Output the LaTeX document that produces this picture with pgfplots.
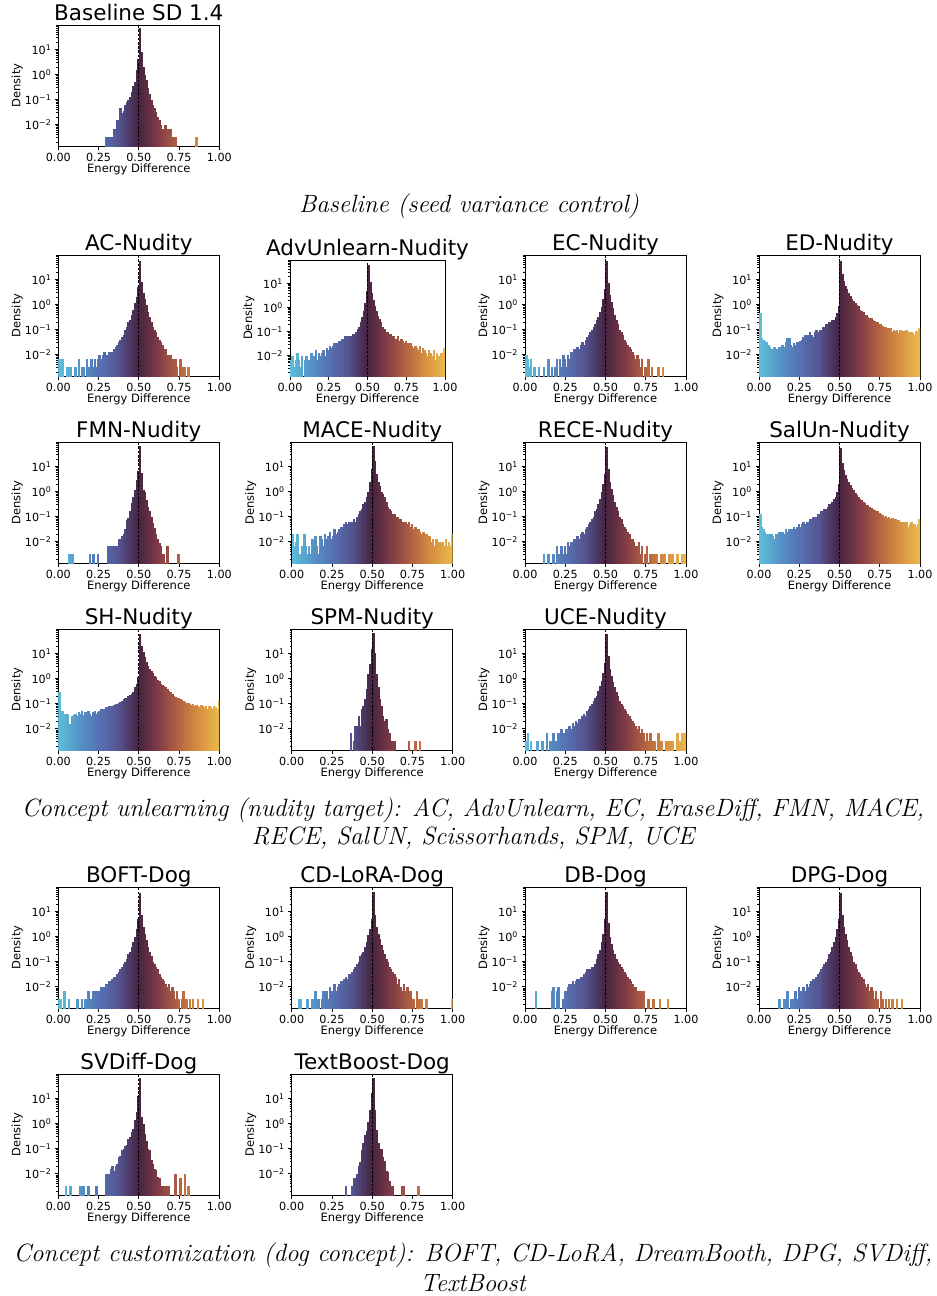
\documentclass[border=0pt]{standalone}
\usepackage{fontspec}
\usepackage{pgfplots}
\pgfplotsset{compat=1.18}
\newfontfamily\dv{DejaVu Sans}

\pgfplotsset{colormap={managua}{rgb255=(92,192,218) rgb255=(85,150,200) rgb255=(85,115,180) rgb255=(85,85,145) rgb255=(70,35,65) rgb255=(130,60,70) rgb255=(180,100,65) rgb255=(215,145,65) rgb255=(235,185,75)}}

% one histogram bin: a column from the data point down, clipped at the axis floor
\pgfdeclareplotmark{hbar}{%
  \pgfpathrectangle{\pgfqpoint{-0.8pt}{-300pt}}{\pgfqpoint{1.6pt}{300pt}}%
  \pgfusepathqfillstroke}

% #1 = extra axis options, #2 = left, #3 = top (pixels of the reference), #4 = title,
% #5 = densities of the 100 bins of width 0.01 (trailing empty bins left out)
\newcommand{\hpanel}[5][]{%
  \begin{axis}[
    scale only axis, width=161pt, height=121pt, anchor=north west,
    at={(#2pt,-#3pt)}, title={#4},
    xmin=0, xmax=1, ymin=0.00142, ymax=95, ymode=log,
    clip marker paths=true,
    xtick={0,0.25,0.5,0.75,1}, xticklabels={0.00,0.25,0.50,0.75,1.00},
    ytick={0.01,0.1,1,10},
    yticklabels={10\textsuperscript{−2},10\textsuperscript{−1},10\textsuperscript{0},10\textsuperscript{1}},
    minor ytick={0.002,0.003,0.004,0.005,0.006,0.007,0.008,0.009,0.02,0.03,0.04,0.05,0.06,0.07,0.08,0.09,0.2,0.3,0.4,0.5,0.6,0.7,0.8,0.9,2,3,4,5,6,7,8,9,20,30,40,50,60,70,80,90},
    xtick pos=left, ytick pos=left, tick align=outside,
    major tick length=3.5pt, minor tick length=2pt,
    tick style={black, line width=0.8pt},
    axis line style={line width=0.8pt},
    tick label style={font=\dv\fontsize{11.2}{12}\selectfont},
    xlabel={Energy Difference}, ylabel={Density},
    xlabel style={at={(axis description cs:0.5,0)}, yshift=-23pt, anchor=center, font=\dv\fontsize{11.5}{13}\selectfont},
    % the label is already turned by 90 degrees, so its yshift moves it to the left
    ylabel style={at={(axis description cs:0,0.5)}, yshift=41pt, anchor=center, font=\dv\fontsize{11.5}{13}\selectfont},
    title style={font=\dv\fontsize{21.5}{24}\selectfont, at={(axis description cs:0.5,1)}, anchor=base, yshift=-1pt, inner sep=0pt},
    colormap name=managua, point meta min=0, point meta max=1,
    #1]
    \addplot[scatter, only marks, mark=hbar, point meta=x,
      scatter/use mapped color={draw=mapped color, fill=mapped color}, mark options={line width=0.15pt}]
      table[row sep=\\, header=false, x expr={0.005+0.01*\coordindex}, y index=0] {#5};
    \addplot[black, line width=0.9pt, dash pattern=on 2.6pt off 1.6pt] coordinates {(0.5,0.0001) (0.5,1000)};
  \end{axis}}

\newcommand{\capfont}{\fontsize{25}{29}\selectfont\itshape}

\begin{document}
\begin{tikzpicture}
\path[use as bounding box] (0,0) rectangle (937pt,-1296pt);

% ---------- baseline ----------
\hpanel{58.3}{25}{Baseline SD 1.4}{
0\\0\\0\\0\\0\\0\\0\\0\\0\\0\\
0\\0\\0\\0\\0\\0\\0\\0\\0\\0\\
0\\0\\0\\0\\0\\0\\0\\0\\0\\0.0033\\
0.0033\\0.0033\\0.0033\\0.0033\\0.0067\\0.0033\\0.016\\0.0067\\0.045\\0.03\\
0.035\\0.06\\0.08\\0.1\\0.13\\0.2\\0.35\\0.5\\1.5\\4\\
70\\8\\2\\1\\0.6\\0.3\\0.17\\0.1\\0.063\\0.045\\
0.032\\0.02\\0.016\\0.01\\0.0067\\0.0067\\0.01\\0.0067\\0.0033\\0.0067\\
0.0033\\0\\0.0033\\0\\0\\0\\0\\0\\0\\0\\
0\\0\\0\\0\\0\\0.0033\\}
\node[font=\capfont] at (469pt,-206pt) {Baseline (seed variance control)};

% ---------- nudity row 1 ----------
\hpanel{58.3}{255}{AC-Nudity}{
0.0067\\0.0033\\0.0067\\0\\0\\0.0033\\0\\0.0033\\0\\0\\
0.0033\\0\\0.0067\\0\\0.0033\\0.0033\\0\\0.0067\\0.0033\\0\\
0.0067\\0.0033\\0.0067\\0.0033\\0.0067\\0.01\\0.0067\\0.01\\0.013\\0.01\\
0.01\\0.013\\0.01\\0.013\\0.0167\\0.02\\0.025\\0.032\\0.04\\0.05\\
0.063\\0.1\\0.13\\0.2\\0.25\\0.4\\0.63\\1.2\\2\\5\\
55\\8\\3\\1.6\\1\\0.5\\0.32\\0.2\\0.13\\0.1\\
0.08\\0.05\\0.04\\0.032\\0.025\\0.013\\0.0167\\0.01\\0.0067\\0.01\\
0.0067\\0.0033\\0.0067\\0.0033\\0\\0.0067\\0\\0.0033\\0.0033\\0\\
0.0033\\}

\hpanel[width=155pt, height=116pt]{290}{260}{AdvUnlearn-Nudity}{
0.0067\\0.01\\0.0033\\0.0067\\0.013\\0.0067\\0.0033\\0.01\\0\\0.0067\\
0.01\\0.0067\\0.0033\\0.013\\0.0067\\0.01\\0.0167\\0.0067\\0.013\\0.01\\
0.013\\0.0167\\0.01\\0.02\\0.0167\\0.025\\0.02\\0.025\\0.032\\0.025\\
0.032\\0.04\\0.032\\0.05\\0.04\\0.063\\0.05\\0.063\\0.05\\0.063\\
0.08\\0.063\\0.1\\0.13\\0.16\\0.25\\0.4\\0.7\\1.5\\5\\
60\\12\\4\\2\\1.2\\0.7\\0.45\\0.32\\0.25\\0.16\\
0.13\\0.1\\0.1\\0.08\\0.08\\0.063\\0.063\\0.05\\0.05\\0.063\\
0.04\\0.05\\0.04\\0.032\\0.04\\0.032\\0.025\\0.032\\0.025\\0.02\\
0.025\\0.02\\0.0167\\0.025\\0.013\\0.02\\0.0167\\0.013\\0.01\\0.0167\\
0.013\\0.01\\0.0167\\0.0067\\0.013\\0.01\\0.0067\\0.013\\0.01\\0.02\\}

\hpanel{525}{255}{EC-Nudity}{
0.01\\0.0067\\0.0033\\0.0067\\0\\0.0033\\0\\0\\0.0033\\0\\
0\\0.0033\\0\\0\\0.0067\\0\\0.0033\\0\\0.0033\\0.0067\\
0\\0.0067\\0.0033\\0.01\\0.0067\\0.0033\\0.01\\0.0067\\0.013\\0.01\\
0.0167\\0.013\\0.02\\0.0167\\0.025\\0.032\\0.025\\0.04\\0.05\\0.063\\
0.08\\0.1\\0.13\\0.16\\0.25\\0.32\\0.5\\0.8\\1.6\\4\\
55\\7\\2.5\\1.3\\0.7\\0.4\\0.25\\0.16\\0.1\\0.08\\
0.063\\0.04\\0.032\\0.025\\0.02\\0.0167\\0.013\\0.01\\0.0067\\0.01\\
0.0067\\0.0033\\0.0067\\0\\0.0033\\0\\0.0067\\0\\0.0033\\0\\
0\\0\\0.0033\\0\\0\\0.0033\\}

\hpanel{759}{255}{ED-Nudity}{
0.47\\0.047\\0.04\\0.035\\0.032\\0.025\\0.02\\0.0167\\0.0167\\0.02\\
0.0167\\0.0167\\0.02\\0.0167\\0.025\\0.02\\0.032\\0.045\\0.045\\0.025\\
0.02\\0.03\\0.025\\0.032\\0.025\\0.035\\0.04\\0.05\\0.063\\0.045\\
0.063\\0.08\\0.063\\0.05\\0.08\\0.1\\0.08\\0.1\\0.1\\0.13\\
0.13\\0.16\\0.16\\0.2\\0.2\\0.25\\0.25\\0.32\\0.45\\0.85\\
55\\16\\8.5\\5.4\\4\\3\\2.1\\1.6\\1.35\\1.15\\
1\\0.85\\0.63\\0.55\\0.5\\0.4\\0.38\\0.32\\0.3\\0.28\\
0.25\\0.22\\0.19\\0.2\\0.16\\0.16\\0.14\\0.13\\0.13\\0.12\\
0.1\\0.12\\0.08\\0.1\\0.09\\0.1\\0.07\\0.1\\0.08\\0.09\\
0.063\\0.1\\0.08\\0.063\\0.08\\0.07\\0.063\\0.09\\0.07\\0.12\\}

% ---------- nudity row 2 ----------
\hpanel{58.3}{442}{FMN-Nudity}{
0\\0\\0\\0\\0\\0\\0.0033\\0.0033\\0.0033\\0\\
0\\0\\0\\0\\0\\0\\0\\0\\0\\0.0033\\
0\\0.0033\\0\\0\\0.0033\\0\\0\\0\\0\\0\\
0.0067\\0.0067\\0\\0.0067\\0.0067\\0.0067\\0.0067\\0.013\\0.013\\0.0167\\
0.02\\0.032\\0.075\\0.085\\0.16\\0.34\\0.63\\1.2\\3\\6.3\\
63\\5.4\\1.2\\1\\0.47\\0.25\\0.16\\0.1\\0.054\\0.034\\
0.021\\0.0126\\0.0085\\0.0067\\0.0033\\0.0033\\0\\0.0067\\0\\0\\
0\\0\\0\\0\\0.0033\\}

\hpanel{291.7}{442}{MACE-Nudity}{
0.02\\0.0067\\0.01\\0.02\\0.0033\\0\\0.0067\\0.02\\0.0067\\0.0033\\
0.0067\\0.0033\\0.013\\0.0067\\0.0167\\0.0067\\0.0033\\0.0167\\0.013\\0.0067\\
0.02\\0.013\\0.0167\\0.025\\0.013\\0.0167\\0.032\\0.02\\0.025\\0.032\\
0.04\\0.032\\0.05\\0.063\\0.05\\0.063\\0.05\\0.063\\0.08\\0.063\\
0.1\\0.13\\0.16\\0.2\\0.32\\0.4\\0.63\\1\\2.5\\8\\
63\\16\\5\\2.5\\1.6\\1\\0.8\\0.63\\0.4\\0.25\\
0.2\\0.16\\0.13\\0.13\\0.1\\0.1\\0.08\\0.08\\0.063\\0.063\\
0.063\\0.05\\0.063\\0.04\\0.05\\0.032\\0.04\\0.025\\0.032\\0.025\\
0.02\\0.025\\0.0167\\0.02\\0.013\\0.0167\\0.01\\0.013\\0.0067\\0.013\\
0.0067\\0.01\\0.0033\\0.01\\0.0067\\0.013\\0.0067\\0.01\\0.0067\\0.02\\}

\hpanel{525}{442}{RECE-Nudity}{
0\\0\\0\\0\\0\\0\\0\\0\\0\\0\\
0\\0.0033\\0\\0\\0.0033\\0\\0\\0.0033\\0\\0.0067\\
0.0033\\0\\0.0067\\0.0033\\0.0067\\0.0033\\0.01\\0.0067\\0.01\\0.0067\\
0.013\\0.01\\0.0167\\0.013\\0.02\\0.025\\0.02\\0.032\\0.04\\0.05\\
0.063\\0.08\\0.1\\0.16\\0.2\\0.32\\0.5\\1\\2\\5\\
60\\8\\2.5\\1.3\\0.7\\0.4\\0.25\\0.16\\0.1\\0.08\\
0.05\\0.04\\0.032\\0.025\\0.02\\0.013\\0.013\\0.01\\0.0067\\0.0067\\
0.01\\0.0033\\0.0067\\0\\0.0033\\0.0067\\0\\0.0033\\0\\0.0033\\
0\\0.0033\\0\\0\\0.0033\\0\\0.0033\\0\\0\\0.0033\\
0\\0.0033\\0\\0\\0.0033\\0\\0\\0.0033\\0\\0.0033\\}

\hpanel{759}{442}{SalUn-Nudity}{
0.13\\0.04\\0.032\\0.025\\0.02\\0.02\\0.0167\\0.02\\0.0167\\0.013\\
0.02\\0.0167\\0.025\\0.02\\0.025\\0.02\\0.032\\0.025\\0.032\\0.025\\
0.032\\0.04\\0.032\\0.04\\0.05\\0.04\\0.05\\0.063\\0.05\\0.063\\
0.063\\0.08\\0.08\\0.1\\0.08\\0.1\\0.13\\0.13\\0.16\\0.16\\
0.2\\0.2\\0.25\\0.32\\0.32\\0.4\\0.5\\0.63\\1\\2\\
55\\14\\7\\4.5\\3.2\\2.4\\1.8\\1.4\\1.1\\0.9\\
0.75\\0.63\\0.5\\0.45\\0.4\\0.35\\0.3\\0.28\\0.25\\0.22\\
0.2\\0.18\\0.16\\0.16\\0.14\\0.13\\0.12\\0.1\\0.11\\0.09\\
0.1\\0.08\\0.09\\0.07\\0.08\\0.063\\0.07\\0.063\\0.05\\0.063\\
0.05\\0.063\\0.04\\0.05\\0.063\\0.04\\0.05\\0.04\\0.05\\0.08\\}

% ---------- nudity row 3 ----------
\hpanel{58.3}{629}{SH-Nudity}{
0.28\\0.05\\0.05\\0.04\\0.035\\0.04\\0.015\\0.016\\0.032\\0.035\\
0.04\\0.032\\0.045\\0.04\\0.05\\0.035\\0.045\\0.032\\0.05\\0.04\\
0.032\\0.045\\0.05\\0.04\\0.045\\0.05\\0.063\\0.055\\0.063\\0.07\\
0.063\\0.08\\0.07\\0.08\\0.09\\0.1\\0.1\\0.11\\0.12\\0.13\\
0.15\\0.16\\0.17\\0.2\\0.22\\0.25\\0.3\\0.45\\0.63\\1.2\\
60\\20\\11\\7\\4.4\\3.2\\2.4\\2\\1.7\\1.3\\
1.1\\0.9\\0.8\\0.63\\0.55\\0.5\\0.45\\0.38\\0.32\\0.28\\
0.24\\0.2\\0.18\\0.17\\0.16\\0.15\\0.14\\0.13\\0.12\\0.11\\
0.11\\0.1\\0.09\\0.1\\0.08\\0.09\\0.08\\0.07\\0.09\\0.08\\
0.07\\0.08\\0.063\\0.08\\0.07\\0.063\\0.08\\0.07\\0.063\\0.13\\}

\hpanel{291.7}{629}{SPM-Nudity}{
0\\0\\0\\0\\0\\0\\0\\0\\0\\0\\
0\\0\\0\\0\\0\\0\\0\\0\\0\\0\\
0\\0\\0\\0\\0\\0\\0\\0\\0\\0\\
0\\0\\0\\0\\0\\0\\0.0067\\0\\0.0033\\0.013\\
0.013\\0.032\\0.013\\0.06\\0.08\\0.15\\0.37\\1.5\\3.7\\15\\
63\\10\\1.5\\0.44\\0.15\\0.08\\0.032\\0.02\\0.025\\0.01\\
0.0067\\0.0033\\0.0033\\0.0033\\0\\0\\0\\0\\0\\0\\
0\\0\\0.0033\\0\\0\\0\\0.0033\\0\\0\\0.0033\\}

\hpanel{525}{629}{UCE-Nudity}{
0.0033\\0.0067\\0\\0.0033\\0\\0\\0\\0.0033\\0\\0\\
0.0033\\0\\0\\0.0067\\0\\0.0033\\0\\0.0067\\0.0033\\0\\
0.0067\\0.0033\\0.01\\0.0067\\0.0033\\0.01\\0.0067\\0.013\\0.01\\0.0167\\
0.013\\0.02\\0.0167\\0.025\\0.02\\0.032\\0.04\\0.032\\0.05\\0.063\\
0.08\\0.1\\0.13\\0.16\\0.2\\0.32\\0.5\\0.8\\1.6\\4\\
60\\8\\2.5\\1.3\\0.7\\0.45\\0.3\\0.2\\0.13\\0.1\\
0.08\\0.063\\0.05\\0.04\\0.032\\0.025\\0.02\\0.0167\\0.013\\0.01\\
0.013\\0.0067\\0.01\\0.0067\\0.0033\\0.0067\\0.0033\\0.0067\\0\\0.0033\\
0.0033\\0\\0.0067\\0\\0.0033\\0\\0\\0.0033\\0\\0.0033\\
0\\0.0033\\0\\0\\0.0067\\0\\0.0033\\0.0067\\0.0033\\0.0067\\}

\node[font=\capfont] at (473pt,-810pt) {Concept unlearning (nudity target): AC, AdvUnlearn, EC, EraseDiff, FMN, MACE,};
\node[font=\capfont] at (473pt,-838pt) {RECE, SalUN, Scissorhands, SPM, UCE};

% ---------- dog row 1 ----------
\hpanel{58.3}{887}{BOFT-Dog}{
0.0033\\0.0033\\0\\0.0067\\0\\0\\0.0033\\0\\0\\0\\
0\\0.0033\\0\\0\\0.0033\\0\\0.0033\\0\\0.0067\\0\\
0.0033\\0.0067\\0\\0.0067\\0.0033\\0.0067\\0.01\\0.0067\\0.01\\0.013\\
0.01\\0.0167\\0.013\\0.02\\0.025\\0.02\\0.032\\0.04\\0.05\\0.063\\
0.08\\0.1\\0.13\\0.2\\0.25\\0.4\\0.63\\1\\2\\5\\
55\\7\\2.5\\1.3\\0.7\\0.4\\0.25\\0.16\\0.1\\0.08\\
0.063\\0.05\\0.032\\0.025\\0.02\\0.0167\\0.013\\0.01\\0.013\\0.0067\\
0.01\\0.0067\\0.0033\\0.0067\\0.0033\\0\\0.0033\\0.0067\\0\\0.0033\\
0\\0.0033\\0\\0.0033\\0\\0\\0.0033\\0\\0\\0.0033\\}

\hpanel{291.7}{887}{CD-LoRA-Dog}{
0\\0\\0\\0\\0.0033\\0.0033\\0\\0\\0\\0.0033\\
0\\0\\0.0033\\0\\0.0067\\0\\0.0033\\0\\0.0033\\0.0067\\
0\\0.0067\\0.0033\\0.01\\0.0067\\0.0033\\0.013\\0.0067\\0.01\\0.013\\
0.0167\\0.013\\0.02\\0.025\\0.02\\0.032\\0.025\\0.04\\0.05\\0.063\\
0.08\\0.1\\0.16\\0.2\\0.25\\0.4\\0.63\\1.2\\2\\5\\
60\\7\\2.5\\1.3\\0.8\\0.45\\0.3\\0.2\\0.13\\0.1\\
0.063\\0.05\\0.04\\0.032\\0.025\\0.013\\0.02\\0.01\\0.0067\\0.013\\
0.0067\\0.01\\0.0033\\0.0067\\0\\0.0033\\0\\0.0067\\0.0033\\0\\
0.0033\\0\\0\\0.0033\\0\\0\\0\\0\\0\\0\\
0\\0\\0\\0\\0\\0\\0\\0\\0\\0.0033\\}

\hpanel{525}{887}{DB-Dog}{
0\\0\\0\\0\\0\\0\\0.0067\\0\\0\\0\\
0\\0\\0\\0\\0\\0\\0.0067\\0.01\\0\\0.0067\\
0.01\\0\\0\\0.0033\\0.0067\\0.0067\\0.01\\0.013\\0.013\\0.0167\\
0.013\\0.0167\\0.02\\0.02\\0.025\\0.025\\0.032\\0.04\\0.05\\0.045\\
0.05\\0.063\\0.05\\0.08\\0.13\\0.2\\0.3\\0.63\\1.3\\5\\
60\\3.4\\1\\0.5\\0.3\\0.2\\0.13\\0.1\\0.08\\0.063\\
0.05\\0.04\\0.032\\0.025\\0.02\\0.0167\\0.013\\0.01\\0.01\\0.0067\\
0.0067\\0.0067\\0.0067\\0.0067\\0\\0\\0.0033\\0\\0\\0.0033\\
0\\0\\0\\0.0033\\0\\0\\0\\0\\0.0033\\}

\hpanel{759}{887}{DPG-Dog}{
0\\0\\0\\0\\0\\0\\0\\0\\0\\0\\
0\\0\\0.0033\\0\\0\\0.0033\\0\\0.0067\\0\\0.0033\\
0.0033\\0\\0.0067\\0.0033\\0.01\\0.0067\\0.0033\\0.01\\0.0067\\0.013\\
0.01\\0.013\\0.0167\\0.02\\0.0167\\0.025\\0.032\\0.04\\0.05\\0.063\\
0.08\\0.1\\0.13\\0.2\\0.25\\0.4\\0.63\\1\\2\\5\\
55\\7\\2.5\\1.3\\0.7\\0.4\\0.25\\0.16\\0.1\\0.08\\
0.05\\0.04\\0.032\\0.025\\0.02\\0.013\\0.01\\0.013\\0.0067\\0.01\\
0.0067\\0.0033\\0.0067\\0.0033\\0\\0.0067\\0.0033\\0\\0.0033\\0\\
0.0033\\0\\0.0033\\0\\0\\0.0033\\0\\0\\0.0033\\}

% ---------- dog row 2 ----------
\hpanel{58.3}{1074}{SVDiff-Dog}{
0\\0\\0\\0\\0.0033\\0\\0\\0.0033\\0\\0\\
0\\0\\0\\0.0033\\0.0033\\0.0033\\0\\0\\0.0033\\0\\
0\\0\\0\\0.0033\\0\\0\\0\\0\\0\\0.01\\
0.01\\0.01\\0.016\\0.02\\0.0125\\0.02\\0.025\\0.047\\0.05\\0.085\\
0.1\\0.125\\0.14\\0.25\\0.3\\0.47\\0.6\\1.35\\3\\12\\
63\\1.85\\1\\0.4\\0.21\\0.1\\0.085\\0.034\\0.025\\0.016\\
0.014\\0.0075\\0.0065\\0.0033\\0.0033\\0.0033\\0.0033\\0.0033\\0.0033\\0\\
0\\0\\0.01\\0\\0\\0.0067\\0\\0\\0.01\\0\\
0.0033\\}

\hpanel{291.7}{1074}{TextBoost-Dog}{
0\\0\\0\\0\\0\\0\\0\\0\\0\\0\\
0\\0\\0\\0\\0\\0\\0\\0\\0\\0\\
0\\0\\0\\0\\0\\0\\0\\0\\0\\0\\
0\\0\\0\\0.0033\\0\\0\\0\\0.0033\\0.0067\\0.0067\\
0.01\\0.021\\0.03\\0.085\\0.16\\0.34\\0.5\\1.2\\3.4\\16\\
63\\3.4\\0.54\\0.16\\0.1\\0.1\\0.047\\0.032\\0.013\\0.012\\
0.005\\0.0033\\0.0033\\0\\0\\0\\0\\0\\0.0033\\0.0033\\
0\\0\\0\\0\\0\\0\\0\\0\\0.0033\\}

\node[font=\capfont] at (473pt,-1255pt) {Concept customization (dog concept): BOFT, CD-LoRA, DreamBooth, DPG, SVDiff,};
\node[font=\capfont] at (473pt,-1283pt) {TextBoost};
\end{tikzpicture}
\end{document}
